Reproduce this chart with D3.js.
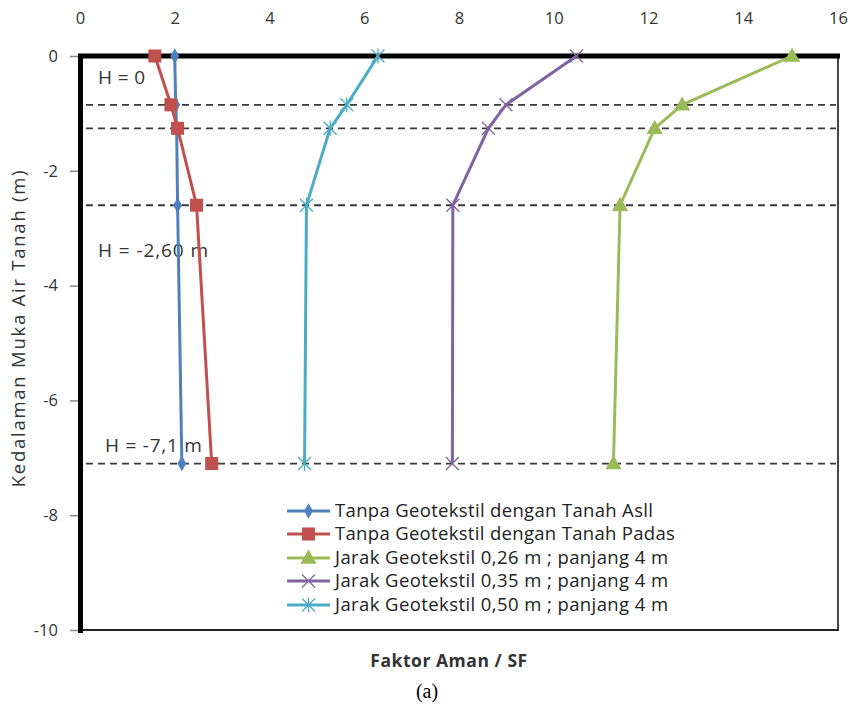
<!DOCTYPE html>
<html><head><meta charset="utf-8">
<script src="https://cdn.jsdelivr.net/npm/d3@7"></script>
<style>body{margin:0;background:#fff}svg{display:block}</style>
</head><body>
<svg id="c" width="851" height="704"></svg>
<script>
// ---- data ----
const depths = [0, -0.85, -1.26, -2.6, -7.1];
const seriesNames = [
  "Tanpa Geotekstil dengan Tanah Asll",
  "Tanpa Geotekstil dengan Tanah Padas",
  "Jarak Geotekstil 0,26 m ; panjang 4 m",
  "Jarak Geotekstil 0,35 m ; panjang 4 m",
  "Jarak Geotekstil 0,50 m ; panjang 4 m"
];
const asli   = [2.00, 2.02, 2.04, 2.06, 2.15];
const padas  = [1.58, 1.92, 2.06, 2.46, 2.78];
const j026   = [15.03, 12.71, 12.13, 11.40, 11.26];
const j035   = [10.48, 8.99, 8.62, 7.87, 7.86];
const j050   = [6.29, 5.63, 5.28, 4.78, 4.74];
const xTicks = [0, 2, 4, 6, 8, 10, 12, 14, 16];
const yTicks = [0, -2, -4, -6, -8, -10];
const guideDepths = [-0.85, -1.26, -2.6, -7.1];
const annotations = ["H = 0", "H = -2,60 m", "H = -7,1 m"];
const annotationDepths = [-0.49, -3.5, -6.9];

const colors = ["#4F81BD", "#C0504D", "#9BBB59", "#8064A2", "#4BACC6"];
const markers = ["diamond", "square", "triangle", "x", "star"];
const values = [asli, padas, j026, j035, j050];

const svg = d3.select("#c");
const x = d3.scaleLinear().domain([0, 16]).range([80, 838]);
const y = d3.scaleLinear().domain([0, -10]).range([56, 630]);
const FONT = "'Open Sans', Lato, sans-serif";

function fit(sel, w) {
  sel.each(function () {
    const len = this.getComputedTextLength();
    const n = this.textContent.length;
    if (n > 1) d3.select(this).attr("letter-spacing", ((w - len) / (n - 1)).toFixed(2));
  });
}

// axes
const xAxis = d3.axisTop(x).tickValues(xTicks).tickSize(0).tickPadding(0).tickFormat(d3.format("d"));
const gx = svg.append("g").attr("transform", "translate(0,24)").call(xAxis);
gx.select(".domain").remove();
gx.selectAll("text").attr("font-family", FONT).attr("font-size", 16.5).attr("fill", "#333").attr("dy", 0);

const yAxis = d3.axisLeft(y).tickValues(yTicks).tickSize(10).tickPadding(12).tickFormat(d => d3.format("d")(d).replace("\u2212", "-"));
const gy = svg.append("g").attr("transform", "translate(80,0)").call(yAxis);
gy.select(".domain").remove();
gy.selectAll("line").attr("stroke", "#888").attr("stroke-width", 1.5);
gy.selectAll("text").attr("font-family", FONT).attr("font-size", 16.5).attr("fill", "#333");

// frame
svg.append("line").attr("x1", 838).attr("x2", 838).attr("y1", 56).attr("y2", 631).attr("stroke", "#333").attr("stroke-width", 1.8);
svg.append("line").attr("x1", 80).attr("x2", 839).attr("y1", 630).attr("y2", 630).attr("stroke", "#222").attr("stroke-width", 1.8);
svg.append("line").attr("x1", 80.5).attr("x2", 80.5).attr("y1", 54).attr("y2", 633).attr("stroke", "#000").attr("stroke-width", 5);
svg.append("line").attr("x1", 78).attr("x2", 840).attr("y1", 56).attr("y2", 56).attr("stroke", "#000").attr("stroke-width", 5);

// dashed guides
svg.append("g").selectAll("line").data(guideDepths).join("line")
  .attr("x1", 86).attr("x2", 836)
  .attr("y1", d => y(d)).attr("y2", d => y(d))
  .attr("stroke", "#3a3a3a").attr("stroke-width", 1.8).attr("stroke-dasharray", "7,5");

// annotations
const annW = [47, 110, 97];
svg.append("g").selectAll("text").data(annotations).join("text")
  .attr("x", (d, i) => i === 2 ? 105 : 98).attr("y", (d, i) => y(annotationDepths[i]))
  .attr("font-family", FONT).attr("font-size", 19).attr("fill", "#333")
  .text(d => d)
  .each(function (d, i) { fit(d3.select(this), annW[i]); });

function drawMarker(g, type, color, cx, cy) {
  if (type === "diamond") {
    g.append("path").attr("d", d3.symbol(d3.symbolDiamond, 70)()).attr("transform", `translate(${cx},${cy})`).attr("fill", color);
  } else if (type === "square") {
    g.append("path").attr("d", d3.symbol(d3.symbolSquare, 170)()).attr("transform", `translate(${cx},${cy})`).attr("fill", color);
  } else if (type === "triangle") {
    g.append("path").attr("d", d3.symbol(d3.symbolTriangle, 115)()).attr("transform", `translate(${cx},${cy+1})`).attr("fill", color);
  } else if (type === "x") {
    const r = 6.5;
    g.append("path").attr("d", `M${cx-r},${cy-r}L${cx+r},${cy+r}M${cx-r},${cy+r}L${cx+r},${cy-r}`).attr("stroke", color).attr("stroke-width", 1.3).attr("fill", "none");
  } else if (type === "star") {
    const r = 6.5;
    g.append("path").attr("d", `M${cx-r},${cy-r}L${cx+r},${cy+r}M${cx-r},${cy+r}L${cx+r},${cy-r}M${cx},${cy-r-1}L${cx},${cy+r+1}`).attr("stroke", color).attr("stroke-width", 1.3).attr("fill", "none");
  }
}

// series
const line = d3.line().x(d => x(d[0])).y(d => y(d[1]));
values.forEach((vals, i) => {
  const pts = vals.map((v, k) => [v, depths[k]]);
  const g = svg.append("g");
  g.append("path").attr("d", line(pts)).attr("fill", "none").attr("stroke", colors[i]).attr("stroke-width", 3);
  pts.forEach(p => drawMarker(g, markers[i], colors[i], x(p[0]), y(p[1])));
});

// legend
const leg = svg.append("g");
const legW = [318, 340, 333, 333, 333];
seriesNames.forEach((name, i) => {
  const yy = [511, 534, 558, 581, 605][i];
  leg.append("line").attr("x1", 287).attr("x2", 330).attr("y1", yy).attr("y2", yy).attr("stroke", colors[i]).attr("stroke-width", 3);
  drawMarker(leg, markers[i], colors[i], 308.5, yy);
  const t = leg.append("text").attr("x", 335).attr("y", yy + 6).attr("font-family", FONT).attr("font-size", 18.5).attr("fill", "#222").text(name);
  fit(t, legW[i]);
});

// axis titles
const yt = svg.append("text").attr("transform", "translate(25,328) rotate(-90)").attr("text-anchor", "middle")
  .attr("font-family", FONT).attr("font-size", 18.5).attr("fill", "#333").text("Kedalaman Muka Air Tanah (m)");
fit(yt, 317);
const xt = svg.append("text").attr("x", 449).attr("y", 667).attr("text-anchor", "middle")
  .attr("font-family", FONT).attr("font-weight", "bold").attr("font-size", 17.5).attr("fill", "#333").text("Faktor Aman / SF");
fit(xt, 157);
svg.append("text").attr("x", 427).attr("y", 698).attr("text-anchor", "middle")
  .attr("font-family", "'Liberation Serif', 'DejaVu Serif', serif").attr("font-size", 20).attr("fill", "#000").text("(a)");
</script>
</body></html>
